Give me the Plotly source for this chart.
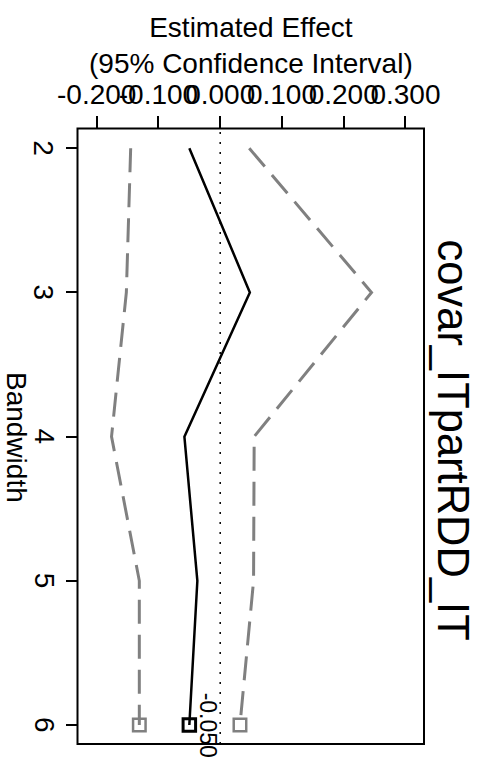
import plotly.graph_objects as go

# Bandwidths and RDD estimates with 95% confidence bounds
bandwidth = [2, 3, 4, 5, 6]
estimate = [-0.050, 0.048, -0.058, -0.037, -0.050]
ci_lower = [-0.145, -0.152, -0.176, -0.131, -0.131]
ci_upper = [0.047, 0.245, 0.055, 0.054, 0.032]

x_ticks = [-0.2, -0.1, 0.0, 0.1, 0.2, 0.3]
y_ticks = [2, 3, 4, 5, 6]

FONT = "Liberation Sans, Arial, sans-serif"
GRAY = "#808080"
W, H = 480, 764

# plot-box geometry in pixels
box_l, box_r, box_t, box_b = 77.5, 424.0, 128.5, 744.0
xdom = [box_l / W, box_r / W]
ydom = [(H - box_b) / H, (H - box_t) / H]

fig = go.Figure()

# reference line at zero effect
fig.add_shape(type="line", xref="x", yref="paper", x0=0, x1=0,
              y0=ydom[0], y1=ydom[1],
              line=dict(color="black", width=1.5, dash="2px,8px"))

# confidence bounds
for bound in (ci_lower, ci_upper):
    fig.add_trace(go.Scatter(x=bound, y=bandwidth, mode="lines",
                             line=dict(color=GRAY, width=3, dash="24px,11px"),
                             showlegend=False, hoverinfo="skip"))
    fig.add_trace(go.Scatter(x=[bound[-1]], y=[bandwidth[-1]], mode="markers",
                             marker=dict(symbol="square-open", size=12.5,
                                         color=GRAY, line=dict(width=2.5, color=GRAY)),
                             showlegend=False, hoverinfo="skip"))

# point estimate
fig.add_trace(go.Scatter(x=estimate, y=bandwidth, mode="lines",
                         line=dict(color="black", width=2.5),
                         showlegend=False, hoverinfo="skip"))
fig.add_trace(go.Scatter(x=[estimate[-1]], y=[bandwidth[-1]], mode="markers",
                         marker=dict(symbol="square-open", size=12.5,
                                     color="black", line=dict(width=3, color="black")),
                         showlegend=False, hoverinfo="skip"))

# value label for the last estimate
fig.add_annotation(x=estimate[-1], y=bandwidth[-1], xref="x", yref="y",
                   text=f"{estimate[-1]:.3f}", showarrow=False, textangle=90,
                   xshift=19, font=dict(family=FONT, size=23, color="black"))

# rotated bandwidth labels beside the tick marks
for b in y_ticks:
    fig.add_annotation(x=44 / W, y=b, xref="paper", yref="y",
                       xanchor="center", yanchor="middle",
                       text=str(b), showarrow=False, textangle=90,
                       font=dict(family=FONT, size=28, color="black"))

# box around the plotting region
fig.add_shape(type="rect", xref="paper", yref="paper",
              x0=xdom[0], x1=xdom[1], y0=ydom[0], y1=ydom[1],
              line=dict(color="black", width=2))

# axis titles and main title
fig.add_annotation(x=(xdom[0] + xdom[1]) / 2, y=(H - 10) / H, xref="paper", yref="paper",
                   xanchor="center", yanchor="top", showarrow=False,
                   text="Estimated Effect<br>(95% Confidence Interval)",
                   font=dict(family=FONT, size=28, color="black"))
fig.add_annotation(x=16 / W, y=(H - 437) / H, xref="paper", yref="paper",
                   xanchor="center", yanchor="middle",
                   text="Bandwidth", showarrow=False, textangle=90,
                   font=dict(family=FONT, size=28, color="black"))
fig.add_annotation(x=452.5 / W, y=(H - 440) / H, xref="paper", yref="paper",
                   xanchor="center", yanchor="middle",
                   text="covar_ITpartRDD_IT", showarrow=False, textangle=90,
                   font=dict(family=FONT, size=43.5, color="black"))

fig.update_layout(
    width=W, height=H,
    margin=dict(l=0, r=0, t=0, b=0, autoexpand=False),
    paper_bgcolor="white", plot_bgcolor="white",
    xaxis=dict(domain=xdom, range=[-0.2311, 0.330], side="top",
               tickvals=x_ticks, ticktext=[f"{v:.3f}" for v in x_ticks],
               tickangle=0, automargin=False,
               ticks="outside", ticklen=12, tickwidth=1.5, tickcolor="black",
               tickfont=dict(family=FONT, size=28, color="black"),
               showgrid=False, zeroline=False, showline=False),
    yaxis=dict(domain=ydom, range=[6.132, 1.863], automargin=False,
               tickvals=y_ticks, showticklabels=False,
               ticks="outside", ticklen=11, tickwidth=1.5, tickcolor="black",
               showgrid=False, zeroline=False, showline=False),
)

fig.write_html("out.html")
